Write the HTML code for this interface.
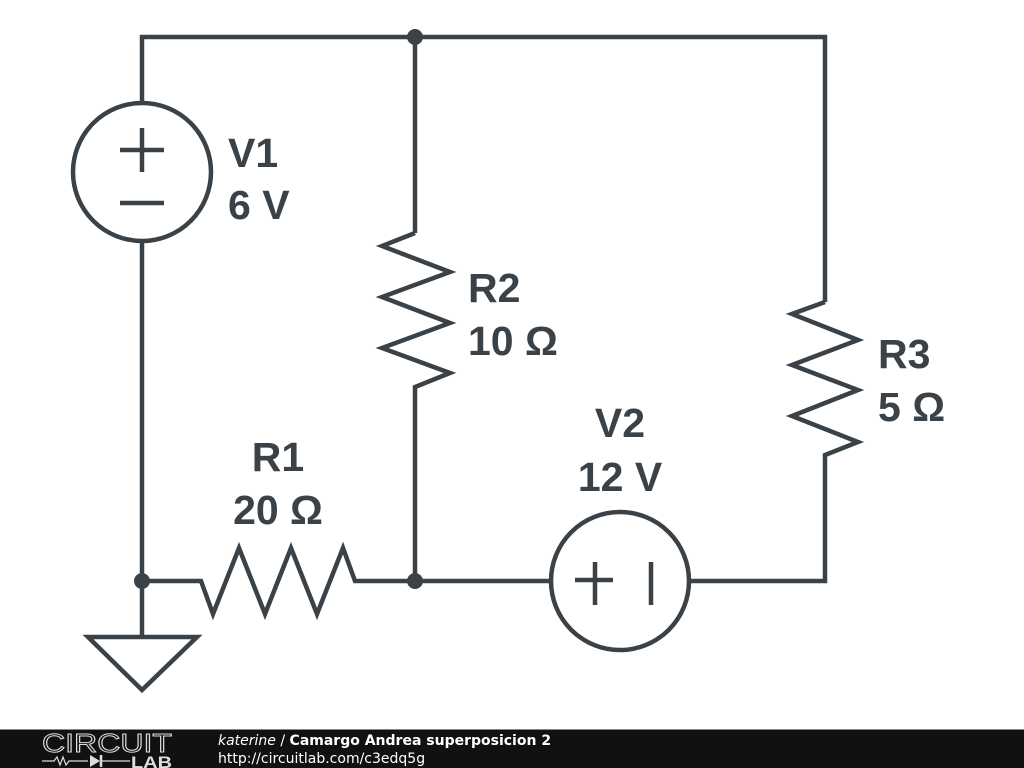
<!DOCTYPE html>
<html><head><meta charset="utf-8"><style>
html,body{margin:0;padding:0;background:#fff;width:1024px;height:768px;overflow:hidden}
svg{display:block}
</style></head><body>
<svg width="1024" height="768" viewBox="0 0 1024 768" xmlns="http://www.w3.org/2000/svg">
<g fill="none" stroke="#3a4248" stroke-width="4.5" stroke-linejoin="miter" stroke-linecap="butt">
<polyline points="142,102 142,37 825,37 825,302"/>
<line x1="415" y1="37" x2="415" y2="233"/>
<circle cx="142" cy="172" r="69"/>
<line x1="120" y1="150" x2="164" y2="150"/>
<line x1="142" y1="128" x2="142" y2="172"/>
<line x1="120" y1="203" x2="164" y2="203"/>
<line x1="142" y1="241" x2="142" y2="637"/>
<polyline points="415,233 382,246 450,272 382,297 450,323 382,348 450,373 415,387 415,581"/>
<polyline points="825,302 792,314 858,340 792,365 858,390 792,416 858,442 825,455 825,581 690,581"/>
<polyline points="142,581 201,581 213,614 239,548 265,614 291,548 317,614 343,548 355,581 551,581"/>
<circle cx="620" cy="581" r="69"/>
<line x1="575" y1="580" x2="613" y2="580"/>
<line x1="595" y1="562" x2="595" y2="605"/>
<line x1="651" y1="562" x2="651" y2="605"/>
<polygon points="88,637 197,637 142,690"/>
</g>
<g fill="#3a4248">
<circle cx="415" cy="37" r="8"/>
<circle cx="415" cy="581" r="8"/>
<circle cx="142" cy="581" r="8"/>
</g>
<g font-family="'Liberation Sans',sans-serif" font-weight="bold" font-size="41" fill="#3a4248">
<text x="228" y="167">V1</text>
<text x="228" y="219">6 V</text>
<text x="468" y="302">R2</text>
<text x="468" y="355">10 Ω</text>
<text x="878" y="368">R3</text>
<text x="878" y="421">5 Ω</text>
<text x="620" y="437" text-anchor="middle">V2</text>
<text x="620" y="491" text-anchor="middle">12 V</text>
<text x="278" y="471" text-anchor="middle">R1</text>
<text x="278" y="524" text-anchor="middle">20 Ω</text>
</g>
<rect x="0" y="729" width="1024" height="39" fill="#111"/>
<line x1="0" y1="729.5" x2="1024" y2="729.5" stroke="#888" stroke-width="1"/>
<text x="42" y="752" font-family="'Liberation Sans',sans-serif" font-size="26" textLength="130" lengthAdjust="spacingAndGlyphs" fill="none" stroke="#ddd" stroke-width="1">CIRCUIT</text>
<polyline points="42,761 54,761 57,757 60,765 63,757 66,765 69,761 88,761" fill="none" stroke="#ddd" stroke-width="1.2"/>
<polygon points="90,755 100,761 90,767" fill="#ddd"/>
<line x1="101" y1="755" x2="101" y2="767" stroke="#ddd" stroke-width="2.5"/>
<line x1="101" y1="761" x2="130" y2="761" stroke="#ddd" stroke-width="1.2"/>
<text x="131" y="768" font-family="'Liberation Sans',sans-serif" font-weight="bold" font-size="17" textLength="41" lengthAdjust="spacingAndGlyphs" fill="#ddd">LAB</text>
<text x="218" y="745" font-family="'DejaVu Sans',sans-serif" font-size="14" fill="#fff"><tspan font-style="italic">katerine</tspan> / <tspan font-weight="bold">Camargo Andrea superposicion 2</tspan></text>
<text x="218" y="763" font-family="'DejaVu Sans',sans-serif" font-size="14" fill="#fff">http://circuitlab.com/c3edq5g</text>
</svg>
</body></html>
